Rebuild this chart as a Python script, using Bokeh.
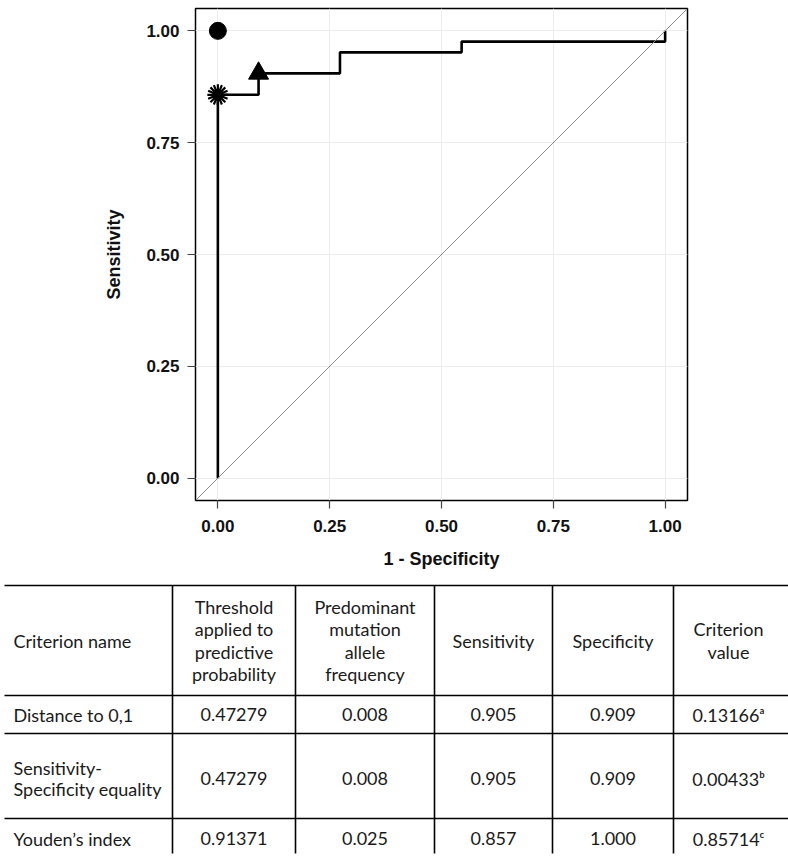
from bokeh.plotting import figure
from bokeh.models import Range1d, FixedTicker, NumeralTickFormatter, Slope
from bokeh.embed import file_html
from bokeh.resources import INLINE
from bokeh.core.properties import value

# ---------------- data ----------------
# ROC curve vertices (1 - specificity, sensitivity)
roc_fpr = [0.0, 0.0, 0.091, 0.273, 0.545, 1.0]
roc_tpr = [0.0, 0.857, 0.905, 0.952, 0.976, 1.0]

# ideal point
ideal_x = [0.0]
ideal_y = [1.0]

axis_ticks = [0.0, 0.25, 0.5, 0.75, 1.0]

# table
headers = ["Criterion name", "Threshold\napplied to\npredictive\nprobability",
           "Predominant\nmutation\nallele\nfrequency", "Sensitivity", "Specificity",
           "Criterion\nvalue"]
criteria = ["Distance to 0,1", "Sensitivity-\nSpecificity equality", "Youden\u2019s index"]
thresholds = ["0.47279", "0.47279", "0.91371"]
allele_freq = ["0.008", "0.008", "0.025"]
sensitivity = [0.905, 0.905, 0.857]
specificity = [0.909, 0.909, 1.000]
criterion_value = ["0.13166\u1d43", "0.00433\u1d47", "0.85714\u1d9c"]

# ---------------- ROC plot ----------------
p = figure(width=788, height=580, output_backend="svg", toolbar_location=None,
           x_range=Range1d(-0.05, 1.05), y_range=Range1d(-0.05, 1.05),
           min_border_left=195, min_border_right=101, min_border_top=8,
           min_border_bottom=80)
p.outline_line_color = "black"
p.outline_line_width = 1.5
p.background_fill_color = "white"
p.border_fill_color = "white"

for ax in (p.xaxis[0], p.yaxis[0]):
    ax.ticker = FixedTicker(ticks=axis_ticks)
    ax.formatter = NumeralTickFormatter(format="0.00")
    ax.axis_line_color = None
    ax.major_tick_line_color = "#444444"
    ax.major_tick_line_width = 1.2
    ax.major_tick_in = 0
    ax.major_tick_out = 8
    ax.minor_tick_line_color = None
    ax.major_label_text_font = "Liberation Sans"
    ax.major_label_text_font_style = "bold"
    ax.major_label_text_font_size = "17px"
    ax.major_label_text_color = "#111111"
    ax.axis_label_text_font = "Liberation Sans"
    ax.axis_label_text_font_style = "bold"
    ax.axis_label_text_font_size = "18px"
    ax.axis_label_text_color = "#111111"

p.xaxis.axis_label = "1 - Specificity"
p.yaxis.axis_label = "Sensitivity"
p.xaxis.major_label_standoff = 11
p.yaxis.major_label_standoff = 8
p.xaxis.axis_label_standoff = 14
p.yaxis.axis_label_standoff = 19

p.grid.grid_line_color = "#ececec"
p.grid.grid_line_width = 1
p.xgrid.ticker = FixedTicker(ticks=axis_ticks)
p.ygrid.ticker = FixedTicker(ticks=axis_ticks)

p.add_layout(Slope(gradient=1, y_intercept=0, line_color="#8c8c8c", line_width=1))

p.step(roc_fpr, roc_tpr, mode="after", line_color="black", line_width=2.6)

# cut-point markers from table values
pt_x = [1 - s for s in specificity]
pt_y = sensitivity
# Distance to 0,1 / equality -> triangle
p.scatter([pt_x[0]], [pt_y[0]], marker="triangle", size=20, fill_color="black", line_color="black")
# Youden -> starburst
yx, yy = [pt_x[2]], [pt_y[2]]
p.scatter(yx, yy, marker="circle", size=11, fill_color="black", line_color="black")
p.scatter(yx, yy, marker="asterisk", size=21, line_color="black", line_width=2.2)
p.scatter(yx, yy, marker="asterisk", size=21, angle=0.3927, line_color="black", line_width=2.2)
# ideal point
p.scatter(ideal_x, ideal_y, marker="circle", size=17, fill_color="black", line_color="black")

# ---------------- table ----------------
t = figure(width=788, height=278, output_backend="svg", toolbar_location=None,
           x_range=Range1d(0, 788), y_range=Range1d(858, 580),
           min_border=0)
t.axis.visible = False
t.grid.visible = False
t.outline_line_color = None
t.background_fill_color = "white"
t.border_fill_color = "white"

h_lines = [585, 695, 733, 818]
v_lines = [172, 295, 434, 552, 673]
t.segment(x0=[4] * len(h_lines), x1=[788] * len(h_lines), y0=h_lines, y1=h_lines,
          line_color="black", line_width=1.6)
t.segment(x0=v_lines, x1=v_lines, y0=[585] * len(v_lines), y1=[853] * len(v_lines),
          line_color="black", line_width=1.6)

col_centers = [13, 233.5, 364.5, 493, 612.5, 728]
row_centers = [640, 714, 778, 838]
font = value("Lato")
fs = "18px"

# header
t.text(x=col_centers[:1], y=[row_centers[0]], text=headers[:1], text_font=font,
       text_font_size=fs, text_align="left", text_baseline="middle",
       text_color="#1a1a1a", text_line_height=1.03)
t.text(x=col_centers[1:], y=[row_centers[0]] * 5, text=headers[1:], text_font=font,
       text_font_size=fs, text_align="center", text_baseline="middle",
       text_color="#1a1a1a", text_line_height=1.03)

# body
rows_y = row_centers[1:]
t.text(x=[col_centers[0]] * 3, y=rows_y, text=criteria, text_font=font,
       text_font_size=fs, text_align="left", text_baseline="middle",
       text_color="#1a1a1a", text_line_height=0.93)
body_cols = [thresholds, allele_freq, ["%.3f" % v for v in sensitivity],
             ["%.3f" % v for v in specificity], criterion_value]
for ci, vals in enumerate(body_cols):
    t.text(x=[col_centers[ci + 1]] * 3, y=rows_y, text=vals, text_font=font,
           text_font_size=fs, text_align="center", text_baseline="middle",
           text_color="#1a1a1a")

open("out.html", "w").write(file_html([p, t], INLINE))
